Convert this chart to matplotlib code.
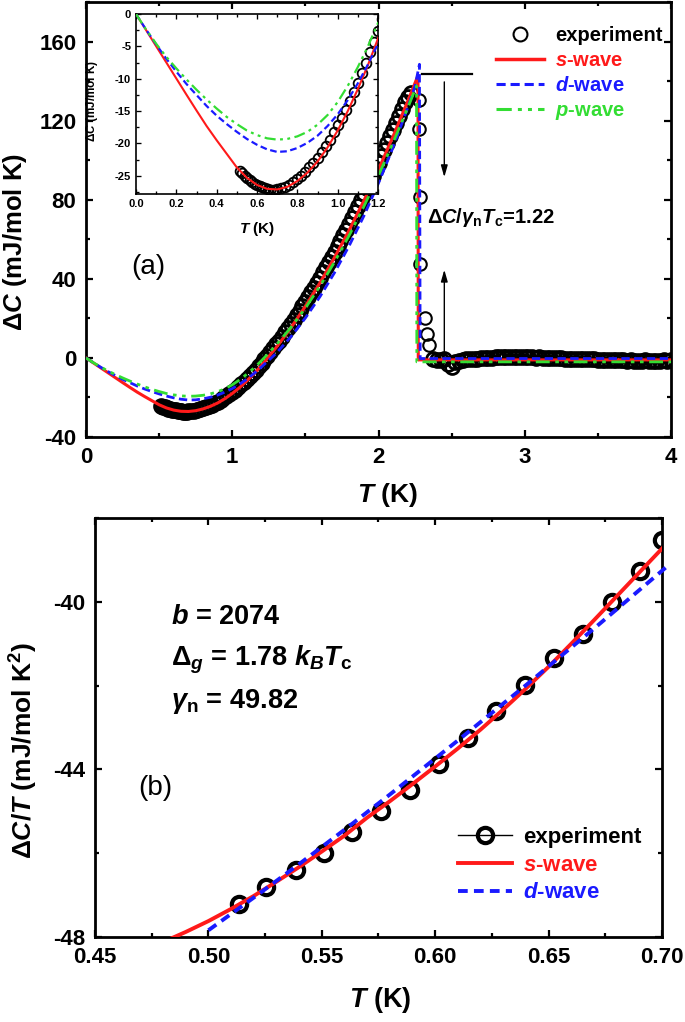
import numpy as np
import matplotlib
matplotlib.use('Agg')
import matplotlib.pyplot as plt
from matplotlib.ticker import MultipleLocator, FormatStrFormatter
from matplotlib.lines import Line2D

plt.rcParams['font.family'] = ['Liberation Sans', 'DejaVu Sans']
plt.rcParams['font.weight'] = 'bold'
plt.rcParams['axes.labelweight'] = 'bold'
plt.rcParams['mathtext.fontset'] = 'custom'
plt.rcParams['mathtext.rm'] = 'Liberation Sans:bold'
plt.rcParams['mathtext.it'] = 'Liberation Sans:italic:bold'
plt.rcParams['mathtext.bf'] = 'Liberation Sans:bold'
plt.rcParams['axes.unicode_minus'] = False

# ---- panel (b) data: dC/T (mJ/mol K^2) ----
b_T = [0.5135, 0.5256, 0.5385, 0.5510, 0.5635, 0.5763, 0.5888, 0.6015,
       0.6144, 0.6269, 0.6394, 0.6523, 0.6650, 0.6779, 0.6904, 0.7000]
b_exp = [-47.22, -46.80, -46.40, -45.99, -45.49, -44.99, -44.48, -43.86,
         -43.24, -42.60, -41.99, -41.35, -40.76, -40.00, -39.27, -38.53]
bs_T = [0.48, 0.49, 0.50, 0.51, 0.52, 0.53, 0.54, 0.55, 0.56, 0.57, 0.58,
        0.59, 0.60, 0.61, 0.62, 0.63, 0.64, 0.65, 0.66, 0.67, 0.68, 0.69, 0.70]
bs_val = [-48.12, -47.88, -47.62, -47.33, -47.02, -46.68, -46.33, -45.96,
          -45.58, -45.15, -44.76, -44.35, -43.93, -43.50, -43.05, -42.57,
          -42.07, -41.55, -41.00, -40.44, -39.87, -39.30, -38.73]
bd_T = [0.50, 0.51, 0.52, 0.53, 0.54, 0.55, 0.56, 0.57, 0.58, 0.59, 0.60,
        0.61, 0.62, 0.63, 0.64, 0.65, 0.66, 0.67, 0.68, 0.69, 0.70, 0.703]
bd_val = [-47.84, -47.45, -47.06, -46.66, -46.26, -45.85, -45.44, -45.02,
          -44.60, -44.17, -43.74, -43.31, -42.87, -42.43, -41.99, -41.54,
          -41.09, -40.64, -40.18, -39.72, -39.26, -39.12]

# ---- panel (a) data: dC (mJ/mol K) ----
exp_hi = [-26.9, -26.7, -26.4, -26.0, -25.5, -25.0, -24.4, -23.7, -23.0, -22.2,
          -21.3, -20.4, -19.4, -18.3, -17.2, -16.0, -14.8, -13.4, -12.0, -10.6,
          -9.1, -7.5, -5.9, -4.3, -2.6,
          -0.8, 1.0, 2.9, 4.8, 6.8, 8.8, 10.8, 12.9, 15.0, 17.1, 19.3, 21.5,
          23.8, 26.1, 28.4, 30.8, 33.2, 35.6, 38.1, 40.6, 43.2, 45.8, 48.4,
          51.0, 53.7, 56.4, 59.2, 62.0, 64.9, 67.8, 70.7, 73.7, 76.7, 79.7,
          82.8, 85.9, 89.0, 92.2, 95.4, 98.6, 101.9, 105.2, 108.6, 112.0,
          115.4, 118.9, 122.4, 125.9, 129.5, 132.0, 134.0]
exp_hi_T = np.linspace(0.72, 2.22, len(exp_hi))
tc_T = [2.278, 2.280, 2.282, 2.285, 2.318, 2.330, 2.345]
tc_val = [130.5, 115.8, 81.6, 47.5, 20.0, 12.2, 6.4]
norm_val = [-0.5, -1.0, -1.2, -0.8, -3.0, -4.5, -2.0, -1.5, -1.0, -0.8, -0.6,
            -0.5, -0.3, -0.2, 0.0, 0.1, 0.2, 0.3, 0.3, 0.4, 0.4, 0.5, 0.4,
            0.5, 0.4, 0.3, 0.4, 0.3, 0.2, 0.3, 0.1, 0.0, 0.1, -0.1, -0.2,
            -0.1, -0.3, -0.4, -0.3, -0.5, -0.6, -0.5, -0.7, -0.8, -0.7, -0.9,
            -1.0, -0.9, -1.1, -1.2, -1.0, -1.3, -1.2, -1.4, -1.3, -1.5, -1.4,
            -1.6, -1.3, -1.5, -1.7, -1.4, -1.6, -1.2, -1.5, -1.0]
norm_T = np.linspace(2.375, 4.0, len(norm_val))

low_T = [0, 0.05, 0.1, 0.15, 0.2, 0.25, 0.3, 0.35, 0.4, 0.45, 0.5, 0.55, 0.6,
         0.65, 0.7, 0.75, 0.8, 0.85, 0.9, 0.95, 1.0, 1.05, 1.1, 1.15, 1.2,
         1.3, 1.4, 1.5, 1.6, 1.7, 1.8, 1.9, 2.0, 2.1, 2.2]
s_T = low_T + [2.27, 2.272, 4.0]
s_val = [0, -2.49, -4.98, -7.47, -9.96, -12.45, -14.9, -17.3, -19.5, -21.6,
         -23.7, -25.3, -26.4, -27.0, -27.1, -26.7, -25.8, -24.5, -22.8, -20.6,
         -18.0, -15.0, -11.6, -7.9, -3.8, 5.2, 15.1, 26.1, 38.0, 50.9, 64.7,
         79.5, 95.3, 112.1, 129.8, 142.8, -1.0, -1.0]
d_T = low_T + [2.25, 2.28, 2.285, 4.0]
d_val = [0, -2.4, -4.7, -6.9, -8.9, -10.8, -12.5, -14.2, -15.7, -17.0, -18.2,
         -19.3, -20.2, -20.9, -21.3, -21.2, -20.7, -19.9, -18.8, -17.3, -15.5,
         -13.3, -10.7, -7.8, -4.6, 2.3, 10.6, 20.2, 31.0, 43.2, 56.8, 71.8,
         88.4, 106.6, 126.6, 137.5, 148.5, -0.3, -0.3]
p_T = low_T + [2.26, 2.262, 4.0]
p_val = [0, -2.4, -4.6, -6.6, -8.4, -10.1, -11.7, -13.2, -14.6, -15.9, -17.0,
         -18.0, -18.7, -19.2, -19.4, -19.3, -18.9, -18.2, -17.1, -15.6, -13.6,
         -11.1, -8.2, -5.0, -1.4, 6.5, 15.3, 25.2, 36.3, 48.6, 62.0, 76.6,
         92.3, 109.0, 126.5, 137.5, -2.0, -2.0]

# experiment dC below 0.7 K follows from the dC/T points
exp_lo_T = np.array(b_T)
exp_lo = exp_lo_T * np.array(b_exp)
exp_T = np.concatenate([exp_lo_T, exp_hi_T])
exp_val = np.concatenate([exp_lo, exp_hi])

red = '#ff1a1a'
blue = '#1a1aff'
green = '#33dd33'
ddash = (3, 1.6)
pdash = (5, 2, 1.3, 2, 1.3, 2)

fig = plt.figure(figsize=(6.85, 10.22), dpi=100)
axa = fig.add_axes([86/685, 1-437/1022, 585/685, 435/1022])
axb = fig.add_axes([95/685, 1-937/1022, 567/685, 419/1022])
axi = fig.add_axes([136/685, 1-194/1022, 242/685, 180/1022])


def style(ax, lw, size, ln, pad):
    for s in ax.spines.values():
        s.set_linewidth(lw)
    ax.tick_params(which='both', direction='in', top=True, right=True,
                   width=lw*0.8, labelsize=size, pad=pad)
    ax.tick_params(which='major', length=ln)
    ax.tick_params(which='minor', length=ln*0.6)


# ---- panel (a) ----
axa.plot(exp_T, exp_val, 'o', mfc='none', mec='k', ms=10, mew=2.0, zorder=2)
axa.plot(tc_T, tc_val, 'o', mfc='none', mec='k', ms=9, mew=1.5, zorder=2)
axa.plot(norm_T, norm_val, 'o', mfc='none', mec='k', ms=10, mew=2.0, zorder=2)
axa.plot(s_T, s_val, '-', color=red, lw=2.2, zorder=3)
axa.plot(d_T, d_val, '--', color=blue, lw=2.0, dashes=ddash, zorder=3)
axa.plot(p_T, p_val, '-.', color=green, lw=2.0, dashes=pdash, zorder=3)
axa.set_xlim(0, 4)
axa.set_ylim(-40, 180)
axa.xaxis.set_major_locator(MultipleLocator(1))
axa.xaxis.set_minor_locator(MultipleLocator(0.5))
axa.yaxis.set_major_locator(MultipleLocator(40))
axa.yaxis.set_minor_locator(MultipleLocator(20))
style(axa, 2.0, 16, 5, 7)
axa.set_xlabel(r'$T$ (K)', fontsize=19)
axa.set_ylabel(r'$\Delta C$ (mJ/mol K)', fontsize=18.5)
axa.xaxis.set_label_coords(0.515, -0.101)
axa.yaxis.set_label_coords(-0.097, 0.448)

axa.plot([2.30, 2.64], [143.8, 143.8], color='k', lw=1.6)
arrow = dict(arrowstyle='-|>,head_length=0.7,head_width=0.2', color='k', lw=1.0)
axa.annotate('', xy=(2.45, 90), xytext=(2.45, 141), arrowprops=arrow)
axa.annotate('', xy=(2.45, 46), xytext=(2.45, -0.5), arrowprops=arrow)
axa.text(2.331, 68.1, r'$\Delta C/\gamma_{\rm n}T_{\rm c}$=1.22',
         fontsize=14.5, va='baseline')
axa.text(0.307, 42.4, '(a)', fontsize=20, fontweight='normal', va='baseline')

hA = [Line2D([], [], ls='none', marker='o', mfc='none', mec='k', ms=10, mew=1.5),
      Line2D([], [], color=red, lw=2.5),
      Line2D([], [], color=blue, lw=2.2, ls='--', dashes=ddash),
      Line2D([], [], color=green, lw=2.2, ls='-.', dashes=pdash)]
legA = axa.legend(hA, ['experiment', r'$s$-wave', r'$d$-wave', r'$p$-wave'],
                  loc='upper left', bbox_to_anchor=(0.700, 0.945),
                  borderaxespad=0, borderpad=0, frameon=False, fontsize=14.5,
                  handlelength=2.4, handletextpad=0.55, labelspacing=0.3,
                  numpoints=1)
for t, c in zip(legA.get_texts(), ['k', red, blue, green]):
    t.set_color(c)

# ---- inset ----
axi.plot(exp_T, exp_val, 'o', mfc='none', mec='k', ms=7, mew=1.3, zorder=2)
axi.plot(s_T, s_val, '-', color=red, lw=1.5, zorder=3)
axi.plot(d_T, d_val, '--', color=blue, lw=1.6, dashes=ddash, zorder=3)
axi.plot(p_T, p_val, '-.', color=green, lw=1.6, dashes=pdash, zorder=3)
axi.set_xlim(0, 1.2)
axi.set_ylim(-27.8, 0)
axi.xaxis.set_major_locator(MultipleLocator(0.2))
axi.xaxis.set_minor_locator(MultipleLocator(0.1))
axi.xaxis.set_major_formatter(FormatStrFormatter('%.1f'))
axi.yaxis.set_major_locator(MultipleLocator(5))
axi.yaxis.set_minor_locator(MultipleLocator(2.5))
style(axi, 1.2, 8, 3.5, 3.5)
axi.set_xlabel(r'$T$ (K)', fontsize=11)
axi.set_ylabel(r'$\Delta C$ (mJ/mol K)', fontsize=8.5)
axi.xaxis.set_label_coords(0.5, -0.144)
axi.yaxis.set_label_coords(-0.149, 0.52)

# ---- panel (b) ----
axb.plot(b_T, b_exp, 'o', mfc='none', mec='k', ms=11, mew=3.0, zorder=2)
axb.plot(bs_T, bs_val, '-', color=red, lw=2.8, zorder=3)
axb.plot(bd_T, bd_val, '--', color=blue, lw=2.8, dashes=(2.5, 1.6), zorder=3,
         clip_on=False)
axb.set_xlim(0.45, 0.70)
axb.set_ylim(-48, -38)
axb.xaxis.set_major_locator(MultipleLocator(0.05))
axb.xaxis.set_minor_locator(MultipleLocator(0.025))
axb.xaxis.set_major_formatter(FormatStrFormatter('%.2f'))
axb.yaxis.set_major_locator(MultipleLocator(4))
axb.yaxis.set_minor_locator(MultipleLocator(2))
style(axb, 2.0, 16, 5, 7)
axb.set_xlabel(r'$T$ (K)', fontsize=19.5)
axb.set_ylabel(r'$\Delta C/T$ (mJ/mol K$^2$)', fontsize=19)
axb.xaxis.set_label_coords(0.503, -0.1146)
axb.yaxis.set_label_coords(-0.097, 0.446)

axb.text(0.4837, -40.52, r'$b$ = 2074', fontsize=19.5, va='baseline')
axb.text(0.4837, -41.51, r'$\Delta_g$ = 1.78 $k_BT_{\rm c}$', fontsize=19.5,
         va='baseline')
axb.text(0.4837, -42.54, r'$\gamma_{\rm n}$ = 49.82', fontsize=19.5,
         va='baseline')
axb.text(0.4692, -44.61, '(b)', fontsize=20, fontweight='normal',
         va='baseline')

hB = [Line2D([], [], color='k', lw=1.0, marker='o', mfc='none', mec='k',
             ms=11, mew=3.0),
      Line2D([], [], color=red, lw=2.8),
      Line2D([], [], color=blue, lw=2.8, ls='--', dashes=(2.5, 1.6))]
legB = axb.legend(hB, ['experiment', r'$s$-wave', r'$d$-wave'],
                  loc='upper left', bbox_to_anchor=(0.641, 0.2625),
                  borderaxespad=0, borderpad=0, frameon=False, fontsize=16,
                  handlelength=2.4, handletextpad=0.5, labelspacing=0.3,
                  numpoints=1)
for t, c in zip(legB.get_texts(), ['k', red, blue]):
    t.set_color(c)

fig.savefig('out.png', dpi=100)
